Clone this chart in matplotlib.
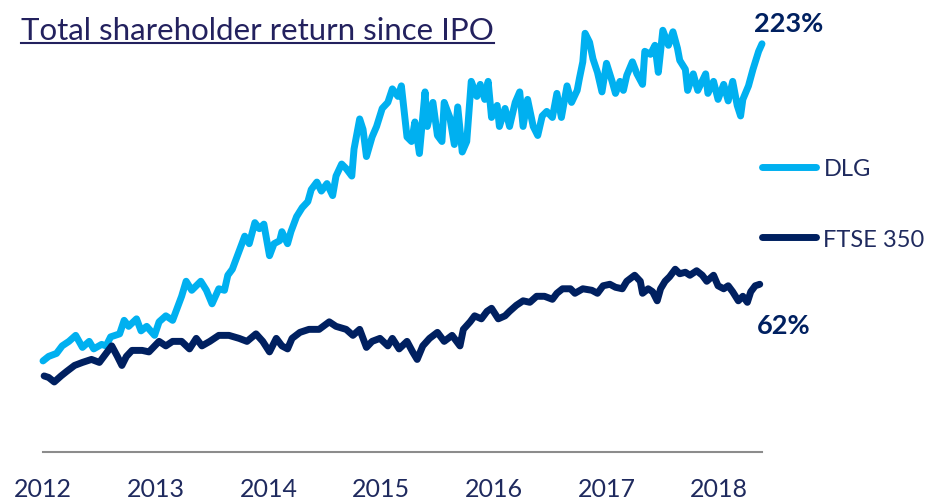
import matplotlib
matplotlib.use("Agg")
import matplotlib.pyplot as plt
from matplotlib.lines import Line2D

# Total shareholder return (%)
dlg_year = [2012.00, 2012.05, 2012.12, 2012.17, 2012.23, 2012.29, 2012.35, 2012.41, 2012.45, 2012.52,
            2012.56, 2012.60, 2012.68, 2012.72, 2012.76, 2012.83, 2012.87, 2012.92, 2012.99, 2013.03,
            2013.09, 2013.15, 2013.19, 2013.23, 2013.27, 2013.32, 2013.40, 2013.45, 2013.50, 2013.56,
            2013.61, 2013.64, 2013.68, 2013.72, 2013.79, 2013.83, 2013.88, 2013.92, 2013.96, 2014.01,
            2014.05, 2014.10, 2014.12, 2014.17, 2014.20, 2014.25, 2014.30, 2014.35, 2014.38, 2014.43,
            2014.47, 2014.52, 2014.57, 2014.60, 2014.65, 2014.69, 2014.74, 2014.76, 2014.81, 2014.84,
            2014.87, 2014.92, 2014.96, 2015.01, 2015.06, 2015.10, 2015.15, 2015.18, 2015.23, 2015.27,
            2015.30, 2015.34, 2015.39, 2015.41, 2015.46, 2015.50, 2015.54, 2015.56, 2015.61, 2015.65,
            2015.68, 2015.72, 2015.76, 2015.80, 2015.85, 2015.88, 2015.92, 2015.95, 2015.98, 2016.03,
            2016.05, 2016.10, 2016.14, 2016.19, 2016.23, 2016.26, 2016.30, 2016.35, 2016.39, 2016.43,
            2016.47, 2016.52, 2016.56, 2016.60, 2016.65, 2016.69, 2016.74, 2016.76, 2016.79, 2016.81,
            2016.85, 2016.88, 2016.92, 2016.96, 2017.00, 2017.05, 2017.08, 2017.12, 2017.15, 2017.18,
            2017.23, 2017.27, 2017.32, 2017.34, 2017.39, 2017.43, 2017.46, 2017.50, 2017.55, 2017.59,
            2017.63, 2017.65, 2017.70, 2017.72, 2017.77, 2017.81, 2017.88, 2017.90, 2017.95, 2017.99,
            2018.04, 2018.08, 2018.12, 2018.16, 2018.19, 2018.21, 2018.26, 2018.30, 2018.35, 2018.38]
dlg_tsr = [12, 15, 17, 22, 25, 29, 21, 25, 20, 23,
           22, 28, 30, 39, 35, 40, 32, 35, 29, 38,
           42, 39, 47, 55, 65, 59, 65, 59, 50, 60,
           59, 69, 73, 81, 95, 90, 104, 100, 103, 82,
           90, 92, 98, 90, 98, 108, 114, 118, 126, 131,
           125, 130, 122, 135, 143, 140, 135, 153, 173, 166,
           148, 161, 168, 180, 184, 193, 188, 195, 161, 158,
           171, 150, 191, 168, 184, 162, 158, 184, 174, 156,
           181, 151, 158, 198, 188, 196, 186, 198, 174, 182,
           168, 180, 168, 184, 191, 168, 186, 168, 162, 175,
           178, 174, 190, 174, 195, 184, 192, 200, 211, 230,
           224, 213, 204, 191, 210, 198, 190, 198, 192, 202,
           211, 203, 196, 218, 216, 222, 204, 232, 222, 231,
           220, 212, 206, 192, 203, 192, 203, 190, 198, 186,
           196, 185, 198, 182, 175, 186, 195, 206, 218, 223]

ftse_year = [2012.01, 2012.05, 2012.10, 2012.16, 2012.21, 2012.28, 2012.35, 2012.43, 2012.50, 2012.56,
             2012.61, 2012.66, 2012.70, 2012.74, 2012.79, 2012.88, 2012.94, 2013.03, 2013.09, 2013.15,
             2013.23, 2013.30, 2013.36, 2013.41, 2013.48, 2013.56, 2013.65, 2013.74, 2013.81, 2013.89,
             2013.95, 2014.01, 2014.07, 2014.12, 2014.17, 2014.21, 2014.28, 2014.36, 2014.45, 2014.54,
             2014.60, 2014.69, 2014.75, 2014.81, 2014.87, 2014.92, 2014.99, 2015.06, 2015.10, 2015.16,
             2015.23, 2015.28, 2015.32, 2015.37, 2015.43, 2015.50, 2015.56, 2015.63, 2015.67, 2015.70,
             2015.73, 2015.79, 2015.83, 2015.89, 2015.94, 2015.98, 2016.04, 2016.10, 2016.14, 2016.20,
             2016.26, 2016.32, 2016.38, 2016.45, 2016.52, 2016.56, 2016.61, 2016.68, 2016.72, 2016.79,
             2016.87, 2016.92, 2016.97, 2017.03, 2017.08, 2017.14, 2017.18, 2017.25, 2017.30, 2017.32,
             2017.37, 2017.41, 2017.45, 2017.48, 2017.52, 2017.56, 2017.61, 2017.65, 2017.70, 2017.74,
             2017.80, 2017.85, 2017.89, 2017.95, 2017.99, 2018.04, 2018.08, 2018.12, 2018.17, 2018.21,
             2018.25, 2018.28, 2018.32, 2018.36]
ftse_tsr = [2, 1, -2, 2, 5, 9, 11, 13, 11, 17,
            22, 15, 9, 15, 19, 19, 18, 25, 22, 25,
            25, 20, 27, 22, 25, 29, 29, 27, 25, 30,
            25, 18, 27, 22, 20, 27, 31, 33, 33, 38,
            35, 33, 29, 33, 21, 25, 27, 22, 27, 20,
            25, 18, 13, 22, 27, 31, 25, 29, 25, 22,
            33, 38, 42, 40, 45, 47, 40, 42, 45, 49,
            52, 51, 55, 55, 53, 57, 60, 60, 57, 60,
            59, 57, 62, 63, 61, 60, 65, 69, 65, 57,
            60, 58, 52, 60, 65, 68, 73, 70, 71, 69,
            72, 69, 65, 69, 62, 60, 62, 58, 52, 55,
            51, 58, 62, 63]

years = [2012, 2013, 2014, 2015, 2016, 2017, 2018]
series_names = ["DLG", "FTSE 350"]
end_labels = ["223%", "62%"]

light_blue = "#00B0F0"
navy = "#002060"
text_navy = "#1F2A5E"

plt.rcParams["font.family"] = ["Lato", "DejaVu Sans"]

fig = plt.figure(figsize=(9.3, 5.02), dpi=100)
ax = fig.add_axes([43 / 930, 49 / 502, 719 / 930, 433 / 502])

ax.plot(dlg_year, dlg_tsr, color=light_blue, lw=5, solid_capstyle="round",
        solid_joinstyle="round", label=series_names[0], clip_on=False)
ax.plot(ftse_year, ftse_tsr, color=navy, lw=5, solid_capstyle="round",
        solid_joinstyle="round", label=series_names[1], clip_on=False)

ax.set_xlim(2012, 2018.38)
ax.set_ylim(-48.6, 239.5)

for s in ["top", "right", "left"]:
    ax.spines[s].set_visible(False)
ax.spines["bottom"].set_color("#8C8C8C")
ax.spines["bottom"].set_linewidth(1.5)
ax.set_yticks([])
ax.set_xticks(years)
ax.set_xticklabels([str(y) for y in years])
ax.tick_params(axis="x", length=0, pad=18, labelsize=18, labelcolor=text_navy)

# end values
ax.annotate(end_labels[0], xy=(dlg_year[-1], dlg_tsr[-1]), xytext=(19, 15),
            textcoords="offset points", ha="center", va="center",
            fontsize=19.5, fontweight="bold", color=navy, annotation_clip=False)
ax.annotate(end_labels[1], xy=(ftse_year[-1], ftse_tsr[-1]), xytext=(17, -29),
            textcoords="offset points", ha="center", va="center",
            fontsize=19.5, fontweight="bold", color=navy, annotation_clip=False)

leg = ax.legend(loc="center left", bbox_to_anchor=(1.0, 0.573), frameon=False,
                fontsize=17, handlelength=2.3, handletextpad=0.3,
                labelspacing=2.1, borderaxespad=0.0, borderpad=0.0)
for t in leg.get_texts():
    t.set_color(text_navy)

# title with underline
title = fig.text(21 / 930, 1 - 40 / 502, "Total shareholder return since IPO",
                 fontsize=22.5, fontweight="normal", color="#23215E", ha="left", va="baseline")
fig.canvas.draw()
bb = title.get_window_extent(fig.canvas.get_renderer())
uy = 1 - 44 / 502
fig.add_artist(Line2D([bb.x0 / 930, bb.x1 / 930], [uy, uy], color="#23215E", lw=1.5))

fig.savefig("out.png", dpi=100)
